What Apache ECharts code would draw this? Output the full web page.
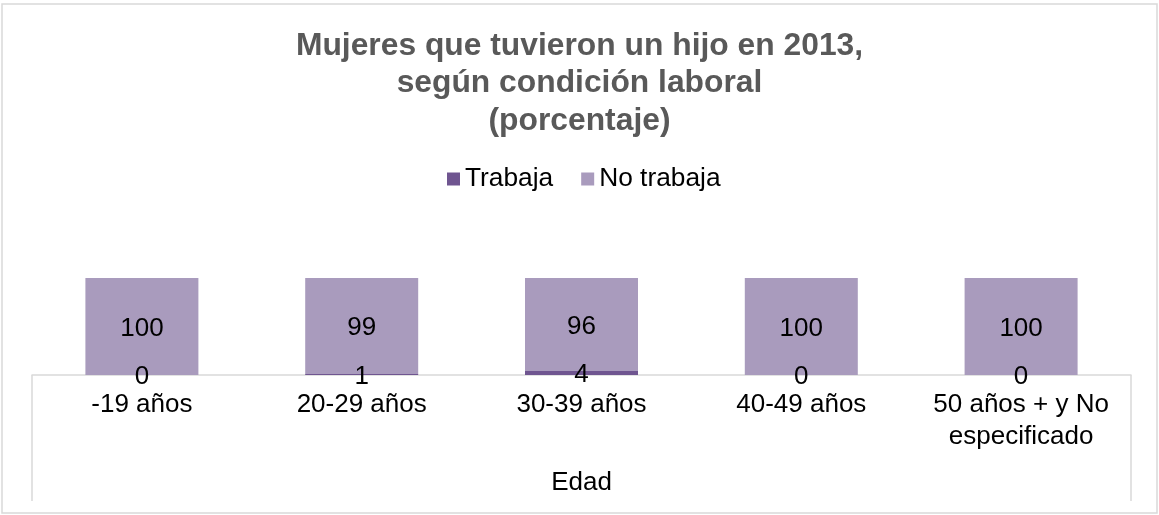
<!DOCTYPE html>
<html>
<head>
<meta charset="utf-8">
<script src="https://cdn.jsdelivr.net/npm/echarts@6/dist/echarts.min.js"></script>
<style>
html,body{margin:0;padding:0;background:#fff;}
#chart{width:1159px;height:515px;}
</style>
</head>
<body>
<div id="chart"></div>
<script>
const titleText = 'Mujeres que tuvieron un hijo en 2013,\nsegún condición laboral\n(porcentaje)';
const categories = ['-19 años', '20-29 años', '30-39 años', '40-49 años', '50 años + y No\nespecificado'];
const groupLabels = ['Edad'];
const seriesNames = ['Trabaja', 'No trabaja'];
const trabaja = [0, 1, 4, 0, 0];
const noTrabaja = [100, 99, 96, 100, 100];

const FONT = '"Liberation Sans", Arial, sans-serif';
const chart = echarts.init(document.getElementById('chart'), null, {renderer: 'canvas'});
chart.setOption({
  animation: false,
  backgroundColor: '#ffffff',
  title: {
    text: titleText,
    left: '50%',
    top: 27,
    padding: 0,
    textAlign: 'center',
    textStyle: {fontFamily: FONT, fontSize: 31.8, fontWeight: 'bold', color: '#595959', lineHeight: 37.5}
  },
  legend: {
    data: seriesNames,
    left: 447,
    top: 164,
    padding: 0,
    itemGap: 28,
    itemWidth: 13,
    itemHeight: 13,
    icon: 'rect',
    textStyle: {fontFamily: FONT, fontSize: 26.3, color: '#000000', lineHeight: 30}
  },
  grid: {left: 32, right: 28, top: 278, bottom: 140, containLabel: false},
  xAxis: [{
    type: 'category',
    data: categories,
    position: 'bottom',
    axisLine: {show: false},
    axisTick: {show: false},
    axisLabel: {fontFamily: FONT, fontSize: 26, color: '#000000', lineHeight: 32, margin: 14, interval: 0}
  }, {
    type: 'category',
    data: groupLabels,
    position: 'bottom',
    axisLine: {show: true, lineStyle: {color: '#d9d9d9', width: 1.5}},
    axisTick: {show: true, length: 126, lineStyle: {color: '#d9d9d9', width: 1.5}},
    axisLabel: {fontFamily: FONT, fontSize: 26, color: '#000000', lineHeight: 32, margin: 92}
  }],
  yAxis: {type: 'value', min: 0, max: 100, show: false, splitLine: {show: false}},
  graphic: [{
    type: 'rect',
    shape: {x: 2, y: 4, width: 1155, height: 509},
    style: {fill: 'none', stroke: '#d9d9d9', lineWidth: 1.5},
    silent: true, z: -1
  }],
  series: [{
    name: seriesNames[0],
    type: 'bar',
    stack: 'total',
    xAxisIndex: 0,
    data: trabaja,
    barWidth: 113,
    itemStyle: {color: '#6f5590'},
    label: {show: true, position: 'inside', offset: [0, 2], fontFamily: FONT, fontSize: 26, color: '#000000'},
    z: 3
  }, {
    name: seriesNames[1],
    type: 'bar',
    stack: 'total',
    xAxisIndex: 0,
    data: noTrabaja,
    barWidth: 113,
    itemStyle: {color: '#a99bbd'},
    label: {show: true, position: 'inside', offset: [0, 2], fontFamily: FONT, fontSize: 26, color: '#000000'},
    z: 2
  }]
});
</script>
</body>
</html>
